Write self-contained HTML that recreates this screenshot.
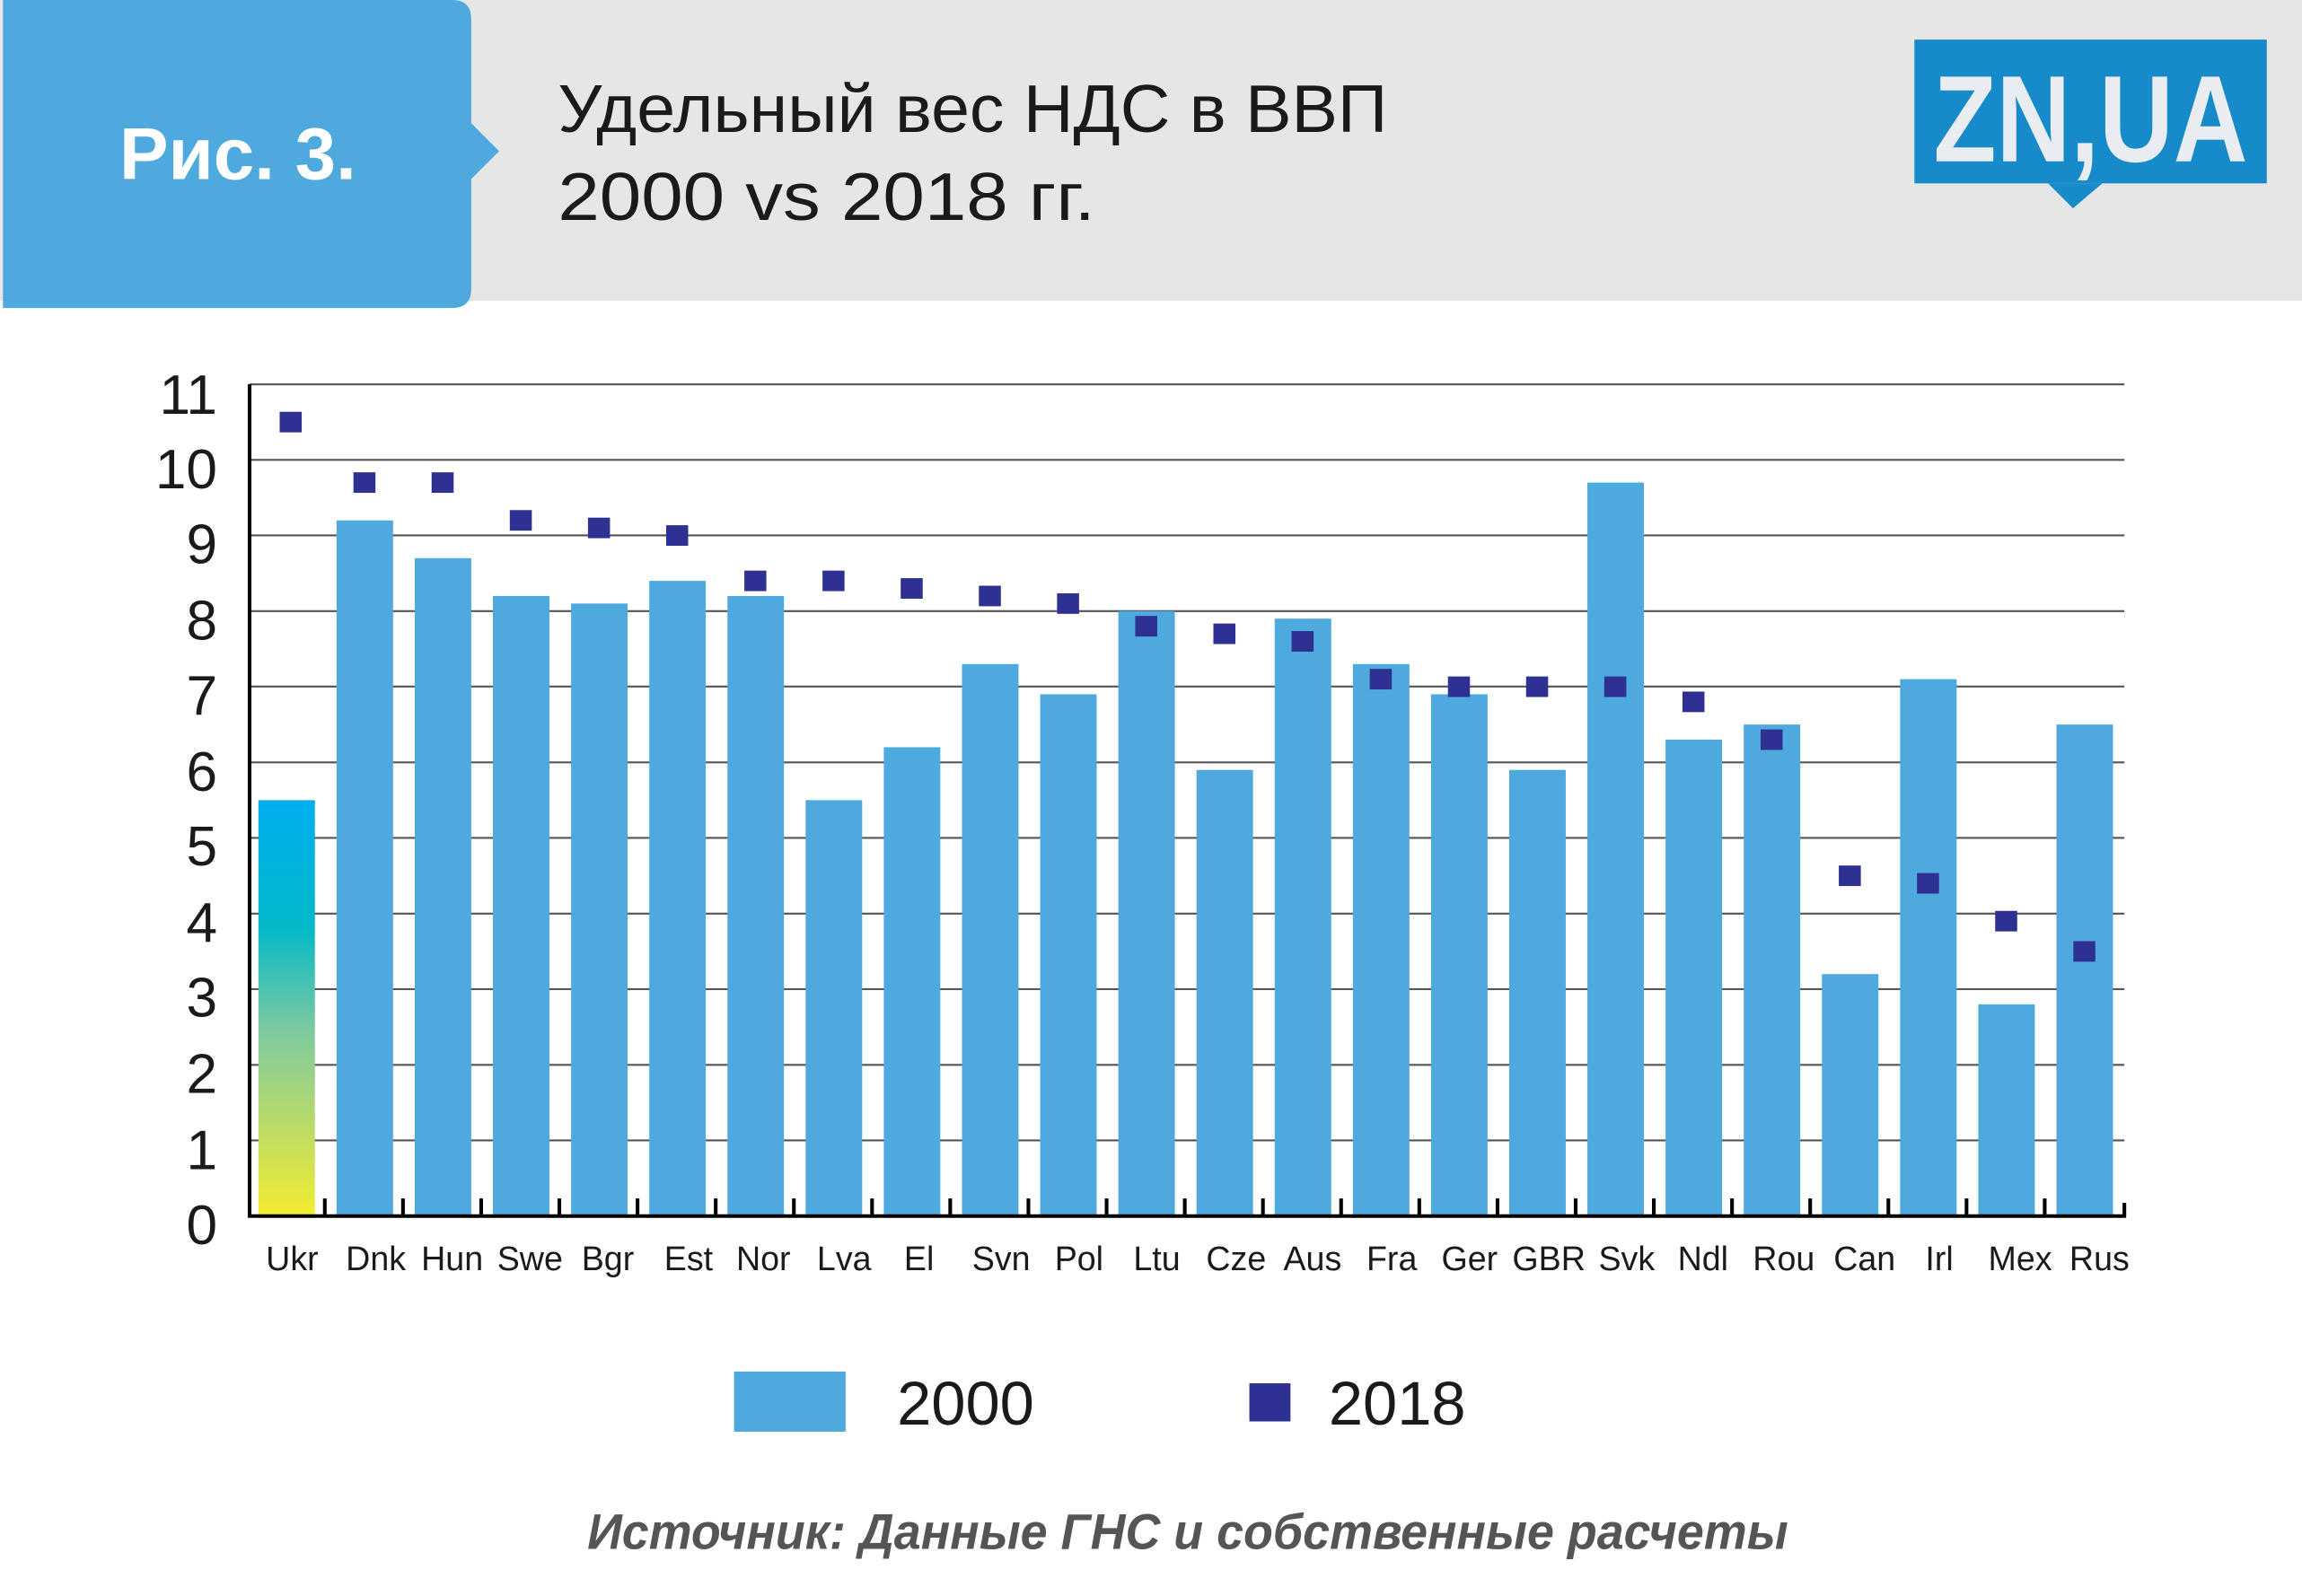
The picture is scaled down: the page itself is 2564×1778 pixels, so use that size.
<!DOCTYPE html>
<html><head><meta charset="utf-8">
<style>
html,body{margin:0;padding:0;background:#fff;}
svg{display:block;}
text{font-family:"Liberation Sans","DejaVu Sans",sans-serif;}
</style></head>
<body>
<svg width="2564" height="1778" viewBox="0 0 1568 1088" preserveAspectRatio="none" xmlns="http://www.w3.org/2000/svg">
<defs>
<linearGradient id="ug" x1="0" y1="0" x2="0" y2="1">
<stop offset="0" stop-color="#00aeef"/>
<stop offset="0.3" stop-color="#00b9c9"/>
<stop offset="0.55" stop-color="#7cc9a0"/>
<stop offset="1" stop-color="#f4ec31"/>
</linearGradient>
</defs>
<rect x="0" y="0" width="1568" height="205" fill="#e6e6e6"/>
<path d="M2 0 H308 Q321 0 321 13 V84 L340 103 L321 122 V197 Q321 210 308 210 H2 Z" fill="#4da9de"/>
<text x="162" y="122" font-size="50" font-weight="bold" fill="#fff" text-anchor="middle">Рис. 3.</text>
<text x="380" y="90" font-size="46" fill="#1a1a1a" textLength="565" lengthAdjust="spacingAndGlyphs">Удельный вес НДС в ВВП</text>
<text x="380" y="150" font-size="46" fill="#1a1a1a" textLength="366" lengthAdjust="spacingAndGlyphs">2000 vs 2018 гг.</text>
<rect x="1304" y="27" width="240" height="98" fill="#178ac9"/>
<path d="M1395 125 L1412 142 L1432 125 Z" fill="#178ac9"/>
<text x="1424" y="110" font-size="84" font-weight="bold" fill="#e9ecf0" text-anchor="middle" textLength="214" lengthAdjust="spacingAndGlyphs">ZN,UA</text>
<g stroke="#555" stroke-width="1.3">
<line x1="170" y1="262" x2="1447" y2="262"/>
<line x1="170" y1="313.5" x2="1447" y2="313.5"/>
<line x1="170" y1="365" x2="1447" y2="365"/>
<line x1="170" y1="416.6" x2="1447" y2="416.6"/>
<line x1="170" y1="468" x2="1447" y2="468"/>
<line x1="170" y1="519.7" x2="1447" y2="519.7"/>
<line x1="170" y1="571.2" x2="1447" y2="571.2"/>
<line x1="170" y1="622.8" x2="1447" y2="622.8"/>
<line x1="170" y1="674.3" x2="1447" y2="674.3"/>
<line x1="170" y1="725.9" x2="1447" y2="725.9"/>
<line x1="170" y1="777.4" x2="1447" y2="777.4"/>
</g>
<g font-size="38" fill="#1a1a1a" text-anchor="end">
<text x="148" y="282">11</text><text x="148" y="333">10</text><text x="148" y="384">9</text>
<text x="148" y="436">8</text><text x="148" y="487">7</text><text x="148" y="539">6</text>
<text x="148" y="590">5</text><text x="148" y="642">4</text><text x="148" y="693">3</text>
<text x="148" y="745">2</text><text x="148" y="797">1</text><text x="148" y="848">0</text>
</g>
<g id="bars" fill="#4da9de"></g>
<g id="pts" fill="#2e3192"></g>
<g id="ticks" stroke="#000" stroke-width="2.5"></g>
<g id="labs" font-size="23" fill="#1a1a1a" text-anchor="middle"></g>
<line x1="170" y1="262" x2="170" y2="830" stroke="#000" stroke-width="2.5"/>
<line x1="169" y1="829" x2="1448" y2="829" stroke="#000" stroke-width="2.5"/>
<line x1="1447" y1="820" x2="1447" y2="830" stroke="#000" stroke-width="2.5"/>
<rect x="500" y="935" width="76" height="41" fill="#4da9de"/>
<text x="611" y="971" font-size="42" fill="#1a1a1a">2000</text>
<rect x="851" y="943" width="28" height="26" fill="#2e3192"/>
<text x="905" y="971" font-size="42" fill="#1a1a1a">2018</text>
<text x="400" y="1056" font-size="34" font-weight="bold" font-style="italic" fill="#555" textLength="818" lengthAdjust="spacingAndGlyphs">Источник: Данные ГНС и собственные расчеты</text>
<script>
var ns="http://www.w3.org/2000/svg";
var L=["Ukr","Dnk","Hun","Swe","Bgr","Est","Nor","Lva","El","Svn","Pol","Ltu","Cze","Aus","Fra","Ger","GBR","Svk","Ndl","Rou","Can","Irl","Mex","Rus"];
var LX=[199,256,308,361,414,469,520,575,626,682,735,788,842,894,948,1001,1055,1108,1160,1215,1270,1321,1376,1430];
var A=[5.5,9.2,8.7,8.2,8.1,8.4,8.2,5.5,6.2,7.3,6.9,8.0,5.9,7.9,7.3,6.9,5.9,9.7,6.3,6.5,3.2,7.1,2.8,6.5];
var B=[10.5,9.7,9.7,9.2,9.1,9.0,8.4,8.4,8.3,8.2,8.1,7.8,7.7,7.6,7.1,7.0,7.0,7.0,6.8,6.3,4.5,4.4,3.9,3.5];
var u=51.55,y0=829;
function el(t,a,p){var e=document.createElementNS(ns,t);for(var k in a)e.setAttribute(k,a[k]);document.getElementById(p).appendChild(e);return e;}
for(var i=0;i<24;i++){
 var x=176+53.25*i,h=A[i]*u;
 el("rect",{x:x,y:y0-h,width:38.5,height:h,fill:i==0?"url(#ug)":"#4da9de"},"bars");
 el("rect",{x:x+19-7.5+(i==0?3:0),y:y0-B[i]*u-7,width:15,height:14},"pts");
 if(i>0)el("line",{x1:x-8,y1:y0-12,x2:x-8,y2:y0},"ticks");
 var t=el("text",{x:LX[i],y:866},"labs");t.textContent=L[i];
}
</script>
</svg>
</body></html>
